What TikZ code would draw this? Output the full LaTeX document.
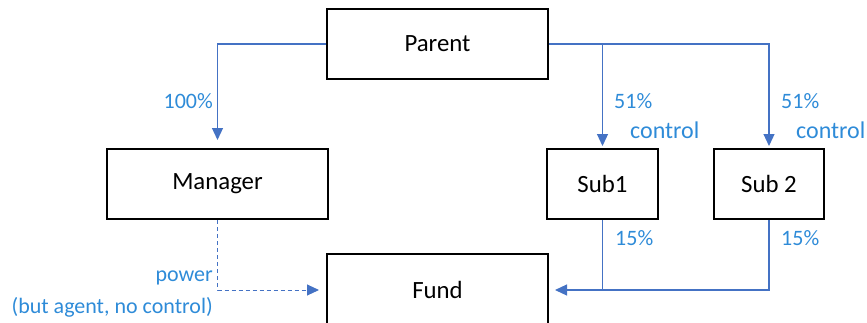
\documentclass[tikz,border=0pt]{standalone}
\usepackage{fontspec}
\setmainfont{Carlito}
\usetikzlibrary{arrows.meta}
\definecolor{lineblue}{HTML}{4472C4}
\definecolor{textblue}{HTML}{2E8BD8}
\tikzset{
  entity/.style={draw=black, line width=2pt, rectangle, minimum height=70pt, inner sep=0pt,
                 font=\fontsize{24.8}{28}\selectfont},
  link/.style={draw=lineblue, line width=1.2pt, -{Triangle[length=12pt,width=11pt]}},
  plainlink/.style={draw=lineblue, line width=1.2pt},
  lbl/.style={text=textblue, inner sep=0pt, font=\fontsize{22}{26}\selectfont},
  biglbl/.style={lbl, font=\fontsize{24}{28}\selectfont}
}
\begin{document}
\begin{tikzpicture}[x=1pt,y=-1pt]
\useasboundingbox (0,0) rectangle (867,322);
% boxes
\node[entity, minimum width=221pt] (parent) at (437.5,44) {Parent};
\node[entity, minimum width=221pt] (manager) at (217.5,184) {Manager};
\node[entity, minimum width=111pt] (sub1) at (602.5,184) {Sub1};
\node[entity, minimum width=110pt] (sub2) at (769,184) {Sub 2};
\node[entity, minimum width=221pt, minimum height=72pt] (fund) at (437.5,290) {Fund};
% helper coordinates
\coordinate (split) at (602.5,44);
\coordinate (join) at (602.5,290);
% connectors
\draw[link, shorten >=8pt] (parent.west) -| (manager.north);
\draw[plainlink] (parent.east) -- (split);
\draw[link, shorten >=2pt] (split) -- (sub1.north);
\draw[link, shorten >=2pt] (split) -| (sub2.north);
\draw[plainlink] (sub1.south) -- (join);
\draw[link, shorten >=6pt] (sub2.south) |- (fund.east);
\draw[link, line width=1pt, dashed, dash pattern=on 4pt off 3pt, shorten >=7pt] (manager.south) |- (fund.west);
% labels
\node[lbl, anchor=base east] (l100) at (213,108) {100\%};
\node[lbl, anchor=base west] (l51a) at (614,108) {51\%};
\node[biglbl, anchor=base west] (lca) at (630,138) {control};
\node[lbl, anchor=base west] (l51b) at (781,108) {51\%};
\node[biglbl, anchor=base west] (lcb) at (796,138) {control};
\node[lbl, anchor=base west] (l15a) at (615,245) {15\%};
\node[lbl, anchor=base west] (l15b) at (781,245) {15\%};
\node[lbl, anchor=base east] (lpow) at (213,281) {power};
\node[lbl, anchor=base east] (lagent) at (213,313) {(but agent, no control)};
\end{tikzpicture}
\end{document}
